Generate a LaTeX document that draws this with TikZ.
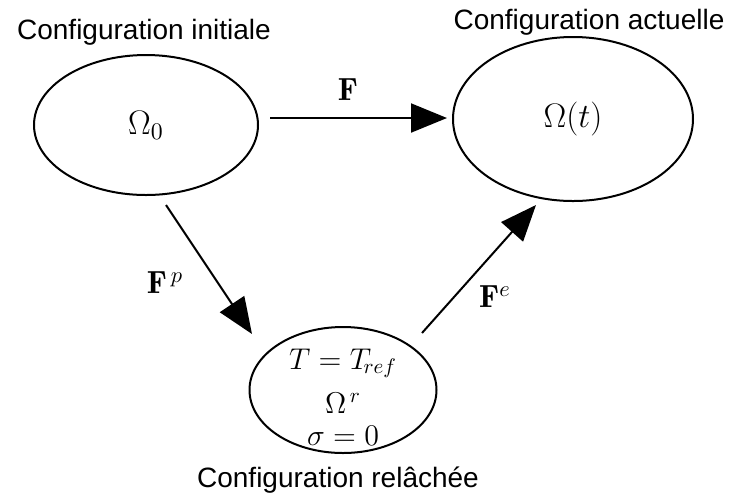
\RequirePackage{fix-cm}
\documentclass[tikz,border=0pt]{standalone}
\usepackage{fontspec}
\setsansfont{Liberation Sans}
\usetikzlibrary{shapes.geometric,arrows.meta,positioning}
\tikzset{
  config/.style={ellipse, draw, line width=1pt, inner sep=0pt,
                 font=\fontsize{17}{19}\selectfont},
  conftitle/.style={font=\sffamily\fontsize{14}{16}\selectfont},
  transf/.style={-{Triangle[length=18pt,width=14.5pt]}, line width=1pt},
  tlabel/.style={font=\fontsize{16}{20}\selectfont},
}
\begin{document}
\begin{tikzpicture}[x=0.5pt, y=-0.5pt]
  \useasboundingbox (0,0) rectangle (730,495);
  % Configurations
  \node[config, minimum width=112pt, minimum height=70pt] (init) at (146,125) {$\Omega_0$};
  \node[config, minimum width=120pt, minimum height=82pt] (actu) at (573,119) {$\Omega(t)$};
  \node[config, minimum width=93.5pt, minimum height=63pt] (relax) at (343,390) {};
  \node[tlabel, font=\fontsize{15}{22}\selectfont, align=center, inner sep=0pt]
    (relaxtxt) at (343,397) {$T=T_{\!ref}$\\$\Omega^{\,r}$\\[-6pt]$\sigma=0$};
  % Titles
  \node[conftitle] (tinit) at (144,32) {Configuration initiale};
  \node[conftitle] (tactu) at (589,22) {Configuration actuelle};
  \node[conftitle] (trelax) at (338,480) {Configuration relâchée};
  % Transformations
  \coordinate (fa) at (270,118);  \coordinate (fb) at (447,118);
  \coordinate (pa) at (166,205);  \coordinate (pb) at (252,334);
  \coordinate (ea) at (422,333);  \coordinate (eb) at (536,205);
  \draw[transf] (fa) -- (fb);
  \draw[transf] (pa) -- (pb);
  \draw[transf] (ea) -- (eb);
  \node[tlabel] (lf) at (348,90) {$\mathbf{F}$};
  \node[tlabel] (lp) at (165,283) {$\mathbf{F}^{\,p}$};
  \node[tlabel] (le) at (495,297) {$\mathbf{F}^{e}$};
\end{tikzpicture}
\end{document}
